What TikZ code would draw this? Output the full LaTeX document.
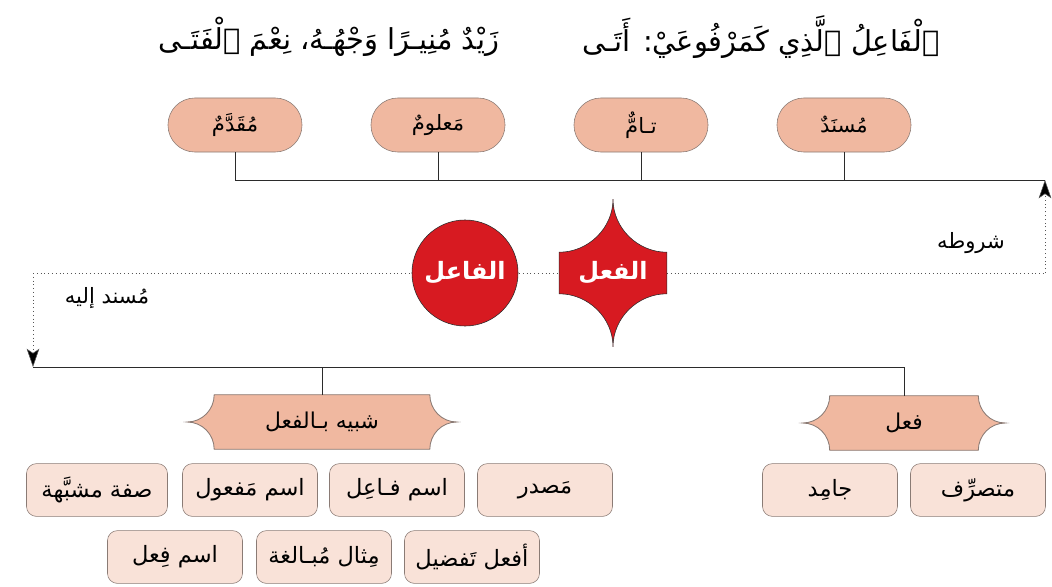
\documentclass[tikz,border=0pt]{standalone}
\usepackage{fontspec}
\usepackage{xcolor}
\usepackage{tikz}
\usetikzlibrary{calc,arrows.meta,backgrounds}
\TeXXeTstate=1
\newfontfamily\arabicfont[Script=Arabic]{DejaVu Sans}
\definecolor{ink}{HTML}{2B2B2B}
\definecolor{rim}{HTML}{8A7B75}
\definecolor{salmon}{HTML}{F0B8A0}
\definecolor{blush}{HTML}{F9E2D8}
\definecolor{crimson}{HTML}{D71A21}
\tikzset{
  bar/.style={draw=ink, line width=0.7pt},
  flow/.style={draw=ink!80, dotted, line width=0.7pt},
  tip/.style={-{Stealth[length=13pt,width=9pt,inset=3pt,fill=black,line width=0.4pt]}},
  verse/.style={font=\arabicfont\fontsize{20.5}{24}\selectfont, text=black},
  cond/.style={draw=rim, fill=salmon, rounded corners=0.67cm, minimum width=3.35cm, minimum height=1.35cm, font=\arabicfont\fontsize{15}{18}\selectfont},
  core/.style={text=white, font=\arabicfont\bfseries\fontsize{17}{20}\selectfont, inner sep=0pt},
  cat/.style={minimum width=3.7cm, minimum height=1.35cm, font=\arabicfont\fontsize{15.5}{18}\selectfont},
  tab/.style={draw=rim, fill=salmon, line width=0.6pt},
  kind/.style={draw=rim, fill=blush, rounded corners=0.25cm, minimum width=3.375cm, minimum height=1.32cm, font=\arabicfont\fontsize{16}{19}\selectfont},
  note/.style={font=\arabicfont\fontsize{15}{18}\selectfont},
}
\begin{document}
\begin{tikzpicture}[x=0.025cm,y=-0.025cm]
  \useasboundingbox (0,0) rectangle (1052,586);
  % verse
  \node[verse] (bayt1) at (761,37) {\beginR ٱلْفَاعِلُ ٱلَّذِي كَمَرْفُوعَيْ: أَتَـى\endR};
  \node[verse] (bayt2) at (329,37) {\beginR زَيْدٌ مُنِيـرًا وَجْهُـهُ، نِعْمَ ٱلْفَتَـى\endR};
  % conditions
  \node[cond] (musnad) at (844,125) {\beginR مُسنَدٌ\endR};
  \node[cond] (tamm) at (641,125) {\beginR تـامٌّ\endR};
  \node[cond] (maalum) at (438,125) {\beginR مَعلومٌ\endR};
  \node[cond] (muqaddam) at (235,125) {\beginR مُقَدَّمٌ\endR};
  \coordinate (topR) at (1045,180);
  \coordinate (midR) at (1045,273);
  \coordinate (midL) at (33,273);
  \coordinate (botL) at (33,367);
  \draw[bar] (muqaddam.south) |- (topR);
  \foreach \n in {maalum,tamm,musnad} \draw[bar] (\n.south) -- (\n.south |- topR);
  % centre
  \node[core, circle, fill=crimson, draw=ink, minimum size=2.65cm] (faail) at (465,273) {\beginR الفاعل\endR};
  \node[core, minimum width=2.675cm, minimum height=1.025cm] (fiel) at (613,273) {\beginR الفعل\endR};
  \node[note] (shurut) at (971,243) {\beginR شروطه\endR};
  \node[note] (ilayh) at (107,298) {\beginR مُسند إليه\endR};
  % kinds
  \node[cat] (fil) at (904,423) {\beginR فعل\endR};
  \node[cat, minimum width=5.375cm] (shabih) at (322,422) {\beginR شبيه بـالفعل\endR};
  \draw[bar] (botL) -| (fil.north);
  \draw[bar] (shabih.north) -- (shabih.north |- botL);
  \begin{scope}[on background layer]
    \draw[flow] (midL) -- (midR);
    \draw[flow, tip] (midR) -- (topR);
    \draw[flow, tip] (midL) -- (botL);
    \draw[fill=crimson, draw=ink, line width=0.4pt] (fiel.north west)
      .. controls +(29,0) and +(0,29) .. ($(fiel.north)+(0,-53)$)
      .. controls +(0,29) and +(-29,0) .. (fiel.north east) -- (fiel.south east)
      .. controls +(-29,0) and +(0,-29) .. ($(fiel.south)+(0,53)$)
      .. controls +(0,-29) and +(29,0) .. (fiel.south west) -- cycle;
    \foreach \n in {fil,shabih}
      \draw[tab] (\n.north west)
        .. controls +(0,15) and +(15,0) .. ($(\n.west)+(-27,0)$)
        .. controls +(15,0) and +(0,-15) .. (\n.south west) -- (\n.south east)
        .. controls +(0,-15) and +(-15,0) .. ($(\n.east)+(27,0)$)
        .. controls +(-15,0) and +(0,15) .. (\n.north east) -- cycle;
  \end{scope}
  \node[kind] (mutasarrif) at (978,490) {\beginR متصرِّف\endR};
  \node[kind] (jamid) at (830,490) {\beginR جامِد\endR};
  \node[kind] (masdar) at (545,490) {\beginR مَصدر\endR};
  \node[kind] (faaiil) at (397,490) {\beginR اسم فـاعِل\endR};
  \node[kind] (mafool) at (250,490) {\beginR اسم مَفعول\endR};
  \node[kind, minimum width=3.525cm] (sifa) at (97,490) {\beginR صفة مشبَّهة\endR};
  \node[kind] (tafdil) at (472,557) {\beginR أفعل تَفضيل\endR};
  \node[kind] (mubalagha) at (324,557) {\beginR مِثال مُبـالغة\endR};
  \node[kind] (ismfil) at (175,557) {\beginR اسم فِعل\endR};
\end{tikzpicture}
\end{document}
